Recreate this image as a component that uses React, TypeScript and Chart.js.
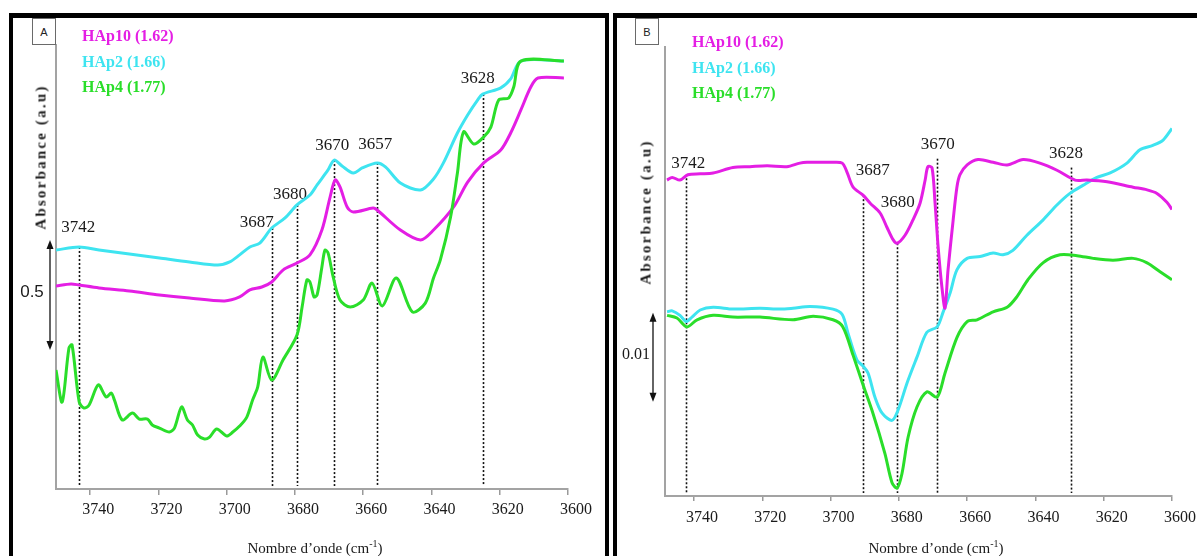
import React, { useEffect, useRef } from 'react';
import { Chart, registerables } from 'chart.js';

Chart.register(...registerables);

// ---------- shared ----------
const xTicks = [3740, 3720, 3700, 3680, 3660, 3640, 3620, 3600];
const seriesNames = ['HAp10 (1.62)', 'HAp2 (1.66)', 'HAp4 (1.77)'];
const seriesColors = ['#e41ee4', '#3ee4f0', '#2ade2a'];

// ---------- panel A (wavenumber cm-1, absorbance a.u.) ----------
const aWnHAp10 = [3750, 3745.6, 3743.2, 3737.4, 3728.5, 3719.7, 3710.9, 3700.6, 3696.2, 3693.2, 3689.7, 3686.8, 3683.5, 3679.4, 3675.6, 3672.1, 3669.7, 3668.2, 3666.8, 3664.7, 3662.9, 3657.1, 3655.9, 3649.1, 3643.2, 3639.4, 3633.5, 3629.4, 3624.7, 3619.7, 3616.8, 3613.8, 3610.9, 3608.8, 3601.2];
const aAbsHAp10 = [0.923, 0.932, 0.927, 0.914, 0.900, 0.882, 0.868, 0.855, 0.873, 0.905, 0.918, 0.941, 0.995, 1.027, 1.064, 1.177, 1.327, 1.405, 1.373, 1.282, 1.259, 1.277, 1.268, 1.177, 1.132, 1.177, 1.282, 1.395, 1.482, 1.541, 1.618, 1.723, 1.827, 1.868, 1.868];

const aWnHAp2 = [3750, 3743.2, 3737.4, 3728.5, 3719.7, 3710.9, 3702.6, 3699.1, 3696.2, 3693.2, 3690.3, 3686.8, 3682.9, 3679.4, 3675.6, 3673.5, 3670.3, 3668.5, 3666.2, 3662.9, 3660.3, 3655.9, 3653.5, 3649.1, 3643.2, 3639.4, 3636.5, 3632.4, 3629.4, 3626.5, 3625.0, 3619.7, 3616.8, 3613.8, 3601.2];
const aAbsHAp2 = [1.086, 1.100, 1.086, 1.068, 1.050, 1.032, 1.018, 1.032, 1.064, 1.100, 1.118, 1.186, 1.232, 1.291, 1.336, 1.382, 1.450, 1.495, 1.468, 1.436, 1.459, 1.482, 1.464, 1.391, 1.359, 1.409, 1.482, 1.618, 1.700, 1.768, 1.795, 1.823, 1.864, 1.945, 1.945];

const aWnHAp4 = [3750, 3748.2, 3746.2, 3745.3, 3743.2, 3741.8, 3740.3, 3737.6, 3735.3, 3733.8, 3732.9, 3730.6, 3727.6, 3725.6, 3723.2, 3721.8, 3719.7, 3716.8, 3715.3, 3713.2, 3711.5, 3710.0, 3708.5, 3706.5, 3705.0, 3702.9, 3700.0, 3698.2, 3696.2, 3694.1, 3692.4, 3690.9, 3689.4, 3686.8, 3683.5, 3679.4, 3677.9, 3676.5, 3675.6, 3674.4, 3673.5, 3672.1, 3671.2, 3670.3, 3668.8, 3666.8, 3663.8, 3660.0, 3657.4, 3654.4, 3650.3, 3645.6, 3641.8, 3639.4, 3637.4, 3634.4, 3632.4, 3630.6, 3627.6, 3624.7, 3622.6, 3620.3, 3617.4, 3615.9, 3613.8, 3601.2];
const aAbsHAp4 = [0.541, 0.395, 0.641, 0.655, 0.395, 0.368, 0.382, 0.473, 0.418, 0.436, 0.405, 0.314, 0.345, 0.318, 0.318, 0.291, 0.277, 0.259, 0.277, 0.373, 0.314, 0.291, 0.245, 0.227, 0.236, 0.273, 0.241, 0.259, 0.286, 0.327, 0.405, 0.464, 0.600, 0.495, 0.586, 0.700, 0.827, 0.950, 0.941, 0.873, 0.882, 1.009, 1.086, 1.073, 0.964, 0.859, 0.827, 0.859, 0.936, 0.832, 0.959, 0.805, 0.845, 0.959, 1.041, 1.236, 1.436, 1.623, 1.568, 1.600, 1.645, 1.768, 1.777, 1.827, 1.945, 1.945];

const aPeakLabels = ['3742', '3687', '3680', '3670', '3657', '3628'];
const aPeakWn = [3743.2, 3686.8, 3679.4, 3668.5, 3655.9, 3625.0];
const aPeakTop = [1.100, 1.186, 1.291, 1.495, 1.482, 1.795];

// ---------- panel B ----------
const bWnHAp10 = [3747.9, 3746.4, 3744.1, 3741.8, 3738.2, 3734.4, 3728.6, 3723.6, 3718.6, 3712.8, 3709.0, 3706.9, 3703.1, 3699.3, 3696.6, 3695.2, 3693.4, 3690.5, 3688.4, 3685.5, 3683.5, 3681.7, 3680.5, 3678.2, 3675.9, 3673.8, 3672.3, 3671.5, 3670.3, 3669.4, 3668.5, 3667.4, 3666.5, 3665.6, 3664.1, 3663.0, 3662.1, 3660.0, 3656.8, 3652.4, 3648.3, 3643.6, 3638.7, 3633.7, 3628.4, 3624.9, 3619.0, 3611.4, 3607.3, 3604.4, 3601.5, 3600.0];
const bAbsHAp10 = [0.0355, 0.0358, 0.0355, 0.0361, 0.0362, 0.0363, 0.0369, 0.0370, 0.0371, 0.0370, 0.0374, 0.0375, 0.0375, 0.0375, 0.0374, 0.0364, 0.0347, 0.0338, 0.0329, 0.0318, 0.0302, 0.0288, 0.0284, 0.0293, 0.0310, 0.0329, 0.0355, 0.0370, 0.0369, 0.0329, 0.0280, 0.0235, 0.0211, 0.0254, 0.0310, 0.0347, 0.0361, 0.0372, 0.0378, 0.0375, 0.0372, 0.0378, 0.0374, 0.0366, 0.0355, 0.0355, 0.0353, 0.0347, 0.0344, 0.0340, 0.0330, 0.0322];

const bWnHAp2 = [3747.9, 3746.4, 3744.1, 3742.3, 3740.6, 3738.2, 3734.4, 3728.6, 3720.7, 3714.8, 3711.0, 3706.0, 3699.3, 3696.6, 3694.9, 3692.3, 3690.5, 3689.0, 3687.0, 3684.9, 3682.0, 3680.2, 3677.6, 3674.7, 3671.8, 3668.8, 3667.1, 3665.0, 3663.0, 3660.0, 3656.2, 3652.4, 3649.5, 3646.6, 3642.5, 3637.8, 3633.7, 3629.9, 3626.1, 3622.0, 3618.1, 3613.2, 3609.4, 3605.6, 3602.6, 3600.0];
const bAbsHAp2 = [0.0207, 0.0208, 0.0203, 0.0196, 0.0201, 0.0209, 0.0212, 0.0210, 0.0211, 0.0210, 0.0211, 0.0213, 0.0210, 0.0204, 0.0183, 0.0153, 0.0146, 0.0138, 0.0111, 0.0093, 0.0085, 0.0097, 0.0127, 0.0156, 0.0184, 0.0190, 0.0206, 0.0228, 0.0254, 0.0267, 0.0269, 0.0273, 0.0271, 0.0276, 0.0293, 0.0310, 0.0327, 0.0340, 0.0349, 0.0358, 0.0363, 0.0374, 0.0389, 0.0394, 0.0400, 0.0413];

const bWnHAp4 = [3747.9, 3745.0, 3742.1, 3739.1, 3734.4, 3728.6, 3720.7, 3711.0, 3705.1, 3699.3, 3696.4, 3693.4, 3690.5, 3687.6, 3684.1, 3682.0, 3680.5, 3679.1, 3677.3, 3674.7, 3671.8, 3668.8, 3666.5, 3663.0, 3660.0, 3657.1, 3652.4, 3648.3, 3645.4, 3642.2, 3637.8, 3632.8, 3627.8, 3623.1, 3617.3, 3611.4, 3607.3, 3603.5, 3600.0];
const bAbsHAp4 = [0.0203, 0.0200, 0.0190, 0.0198, 0.0203, 0.0201, 0.0201, 0.0198, 0.0202, 0.0198, 0.0190, 0.0158, 0.0125, 0.0093, 0.0048, 0.0015, 0.0009, 0.0025, 0.0066, 0.0100, 0.0117, 0.0111, 0.0138, 0.0178, 0.0196, 0.0198, 0.0207, 0.0212, 0.0224, 0.0243, 0.0262, 0.0271, 0.0270, 0.0267, 0.0265, 0.0267, 0.0262, 0.0252, 0.0243];

const bPeakLabels = ['3742', '3687', '3680', '3670', '3628'];
const bPeakWn = [3742.3, 3690.6, 3680.6, 3668.9, 3629.6];
const bPeakTop = [0.0357, 0.0338, 0.0284, 0.0379, 0.0369];

// ---------- layout / style config ----------
const panels = [
  {
    id: 'A',
    canvas: { left: 13, top: 18, w: 592, h: 540 },
    padding: { left: 43, right: 37, top: 27, bottom: 29 },
    xMax: 3750, yMax: 2.018,
    series: [[aWnHAp4, aAbsHAp4, 2], [aWnHAp10, aAbsHAp10, 0], [aWnHAp2, aAbsHAp2, 1]],
    peakLabels: aPeakLabels, peakWn: aPeakWn, peakTop: aPeakTop,
    labelDx: [-1, -15, -7, -2, -2, -5], labelDy: [-19, -6, -10, -15, -18, -16],
    bar: { from: 0.632, size: 0.5, text: '0.5', gap: 6, textDx: -18, textDy: -3, font: '17px "Liberation Sans"' },
    tickLen: 6, tickPad: 5,
  },
  {
    id: 'B',
    canvas: { left: 617, top: 18, w: 580, h: 540 },
    padding: { left: 48, right: 25, top: 29, bottom: 22 },
    xMax: 3748.5, yMax: 0.05045,
    series: [[bWnHAp4, bAbsHAp4, 2], [bWnHAp10, bAbsHAp10, 0], [bWnHAp2, bAbsHAp2, 1]],
    peakLabels: bPeakLabels, peakWn: bPeakWn, peakTop: bPeakTop,
    labelDx: [2, 10, 1, 1, -5], labelDy: [-15, -25, -41, -14, -14],
    bar: { from: 0.0106, size: 0.01, text: '0.01', gap: 12, textDx: -17, textDy: -2, font: '16px "Liberation Serif"' },
    tickLen: 5, tickPad: 7,
  },
];

const makeOverlay = (p: any) => ({
  id: 'overlay' + p.id,
  beforeDatasetsDraw(chart: any) {
    const { ctx, chartArea } = chart;
    const xs = chart.scales.x;
    const ys = chart.scales.y;
    ctx.save();
    // dotted reference lines
    ctx.strokeStyle = '#111';
    ctx.lineWidth = 1.6;
    ctx.setLineDash([2, 2]);
    p.peakWn.forEach((w: number, i: number) => {
      const px = Math.round(xs.getPixelForValue(w)) + 0.5;
      const top = ys.getPixelForValue(p.peakTop[i]);
      ctx.beginPath();
      ctx.moveTo(px, top);
      ctx.lineTo(px, chartArea.bottom - 3);
      ctx.stroke();
    });
    ctx.setLineDash([]);
    // peak labels
    ctx.fillStyle = '#1a1a1a';
    ctx.font = '17px "Liberation Serif"';
    ctx.textAlign = 'center';
    ctx.textBaseline = 'middle';
    p.peakLabels.forEach((t: string, i: number) => {
      const px = xs.getPixelForValue(p.peakWn[i]) + p.labelDx[i];
      const py = ys.getPixelForValue(p.peakTop[i]) + p.labelDy[i];
      ctx.fillText(t, px, py);
    });
    // scale bar (double arrow)
    const b = p.bar;
    const ax = chartArea.left - b.gap;
    const yTop = ys.getPixelForValue(b.from + b.size);
    const yBot = ys.getPixelForValue(b.from);
    ctx.strokeStyle = '#111';
    ctx.fillStyle = '#111';
    ctx.lineWidth = 1.3;
    ctx.beginPath();
    ctx.moveTo(ax, yTop + 6);
    ctx.lineTo(ax, yBot - 6);
    ctx.stroke();
    ctx.beginPath();
    ctx.moveTo(ax, yTop);
    ctx.lineTo(ax - 3.5, yTop + 9);
    ctx.lineTo(ax + 3.5, yTop + 9);
    ctx.closePath();
    ctx.fill();
    ctx.beginPath();
    ctx.moveTo(ax, yBot);
    ctx.lineTo(ax - 3.5, yBot - 9);
    ctx.lineTo(ax + 3.5, yBot - 9);
    ctx.closePath();
    ctx.fill();
    ctx.font = b.font;
    ctx.fillStyle = '#1a1a1a';
    ctx.fillText(b.text, ax + b.textDx, (yTop + yBot) / 2 + b.textDy);
    ctx.restore();
  },
});

function PanelChart({ p }: { p: any }) {
  const ref = useRef<HTMLCanvasElement | null>(null);
  useEffect(() => {
    if (!ref.current) return;
    const chart = new Chart(ref.current, {
      type: 'line',
      data: {
        datasets: p.series.map(([wn, ab, ci]: any) => ({
          label: seriesNames[ci],
          data: wn.map((w: number, i: number) => ({ x: w, y: ab[i] })),
          borderColor: seriesColors[ci],
          borderWidth: 3,
          pointRadius: 0,
          tension: 0.3,
          fill: false,
        })),
      },
      options: {
        animation: false,
        responsive: false,
        maintainAspectRatio: false,
        events: [],
        layout: { padding: p.padding },
        plugins: { legend: { display: false }, tooltip: { enabled: false }, title: { display: false } },
        scales: {
          x: {
            type: 'linear',
            reverse: true,
            min: 3600,
            max: p.xMax,
            afterBuildTicks: (s: any) => {
              s.ticks = xTicks.map((v) => ({ value: v }));
            },
            afterFit: (s: any) => {
              s.height = 40;
            },
            grid: { display: true, drawOnChartArea: false, drawTicks: true, tickLength: p.tickLen, color: '#9a9a9a', lineWidth: 1.5 },
            border: { display: true, color: '#a3a3a3', width: 2 },
            ticks: {
              font: { family: 'Liberation Serif', size: 16 },
              color: '#1a1a1a',
              padding: p.tickPad,
              labelOffset: 8,
              maxRotation: 0,
              autoSkip: false,
              callback: (v: any) => String(v),
            },
          },
          y: {
            type: 'linear',
            min: 0,
            max: p.yMax,
            afterFit: (s: any) => {
              s.width = 0;
            },
            ticks: { display: false },
            grid: { display: false, drawTicks: false },
            border: { display: true, color: '#a3a3a3', width: 2 },
          },
        },
      } as any,
      plugins: [makeOverlay(p)],
    });
    return () => chart.destroy();
  }, []);
  const c = p.canvas;
  return (
    <canvas
      ref={ref}
      width={c.w}
      height={c.h}
      style={{ position: 'absolute', left: c.left, top: c.top, width: c.w, height: c.h }}
    />
  );
}

const serif = '"Liberation Serif", "Times New Roman", serif';

function Legend({ left, top }: { left: number; top: number }) {
  return (
    <>
      {seriesNames.map((n, i) => (
        <div
          key={n}
          style={{
            position: 'absolute', left, top: top + i * 25.5, fontFamily: serif, fontWeight: 'bold',
            fontSize: 16, lineHeight: '18px', color: seriesColors[i], whiteSpace: 'nowrap',
          }}
        >
          {n}
        </div>
      ))}
    </>
  );
}

function Tag({ left, top, w, h, text }: any) {
  return (
    <div
      style={{
        position: 'absolute', left, top, width: w, height: h, boxSizing: 'border-box', border: '1px solid #6a6a6a',
        background: '#fff', fontFamily: '"Liberation Sans", Arial, sans-serif', fontSize: 11, color: '#222',
        display: 'flex', alignItems: 'center', justifyContent: 'center',
      }}
    >
      {text}
    </div>
  );
}

function YTitle({ cx, cy }: { cx: number; cy: number }) {
  return (
    <div
      style={{
        position: 'absolute', left: cx, top: cy, transform: 'translate(-50%, -50%) rotate(-90deg)',
        fontFamily: serif, fontWeight: 'bold', fontSize: 15, letterSpacing: '2.2px', color: '#1a1a1a', whiteSpace: 'nowrap',
      }}
    >
      Absorbance (a.u)
    </div>
  );
}

function XTitle({ cx, cy }: { cx: number; cy: number }) {
  return (
    <div
      style={{
        position: 'absolute', left: cx, top: cy, transform: 'translate(-50%, -50%)',
        fontFamily: serif, fontSize: 15, color: '#1a1a1a', whiteSpace: 'nowrap',
      }}
    >
      Nombre d’onde (cm<sup style={{ fontSize: 10 }}>-1</sup>)
    </div>
  );
}

export default function App() {
  return (
    <div style={{ position: 'absolute', left: 0, top: 0, width: 1197, height: 556, overflow: 'hidden', background: '#fff' }}>
      <div style={{ position: 'absolute', left: 9, top: 13, width: 600, height: 620, boxSizing: 'border-box', border: '4px solid #000', borderTopWidth: 5 }} />
      <div style={{ position: 'absolute', left: 613, top: 13, width: 640, height: 620, boxSizing: 'border-box', border: '4px solid #000', borderTopWidth: 5 }} />
      <PanelChart p={panels[0]} />
      <PanelChart p={panels[1]} />
      <Tag left={32} top={18} w={24} h={27} text="A" />
      <Tag left={635} top={18} w={24} h={27} text="B" />
      <Legend left={82} top={27} />
      <Legend left={692} top={33} />
      <YTitle cx={41} cy={157} />
      <YTitle cx={646} cy={212} />
      <XTitle cx={315} cy={547} />
      <XTitle cx={936} cy={547} />
    </div>
  );
}
